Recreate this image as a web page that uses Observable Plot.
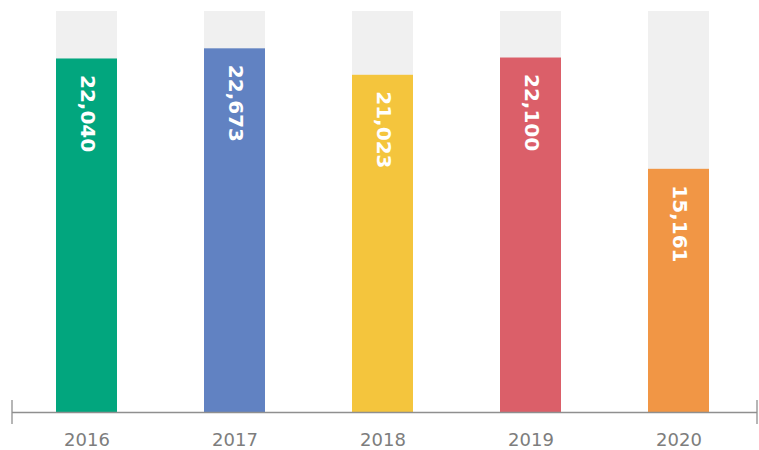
<!DOCTYPE html>
<html>
<head>
<meta charset="utf-8">
<script src="https://cdn.jsdelivr.net/npm/d3@7"></script>
<script src="https://cdn.jsdelivr.net/npm/@observablehq/plot@0.6"></script>
<style>
  html, body { margin: 0; padding: 0; background: #fff; }
</style>
</head>
<body>
<div id="chart"></div>
<script>
const years = ["2016", "2017", "2018", "2019", "2020"];
const values = [22040, 22673, 21023, 22100, 15161];
const colors = ["#02A67E", "#6182C2", "#F4C53D", "#DB5F69", "#F19645"];
const yMax = 25000;

const data = years.map((y, i) => ({year: y, value: values[i], color: colors[i]}));

const axisEnds = (index, scales, values, dims) => {
  const g = d3.create("svg:g");
  const y0 = scales.y(0);
  const xl = dims.marginLeft, xr = dims.width - dims.marginRight;
  g.append("line").attr("x1", xl).attr("x2", xr).attr("y1", y0 + 0.5).attr("y2", y0 + 0.5)
    .attr("stroke", "#8f8f8f").attr("stroke-width", 1.3);
  for (const x of [xl, xr]) {
    g.append("line").attr("x1", x).attr("x2", x).attr("y1", y0 - 12).attr("y2", y0 + 12)
      .attr("stroke", "#8f8f8f").attr("stroke-width", 1.3);
  }
  return g.node();
};

const chart = Plot.plot({
  width: 759,
  height: 450,
  marginTop: 11,
  marginBottom: 38,
  marginLeft: 12,
  marginRight: 2,
  x: {domain: years, paddingInner: 0.589, paddingOuter: 0.307, align: 0.478, axis: null},
  y: {domain: [0, yMax], axis: null},
  color: {domain: years, range: colors},
  marks: [
    Plot.barY(data, {x: "year", y: () => yMax, fill: "#F0F0F0"}),
    Plot.barY(data, {x: "year", y: "value", fill: "year"}),
    Plot.text(data, {
      x: "year", y: "value", text: d => d3.format(",")(d.value),
      rotate: 90, textAnchor: "start", lineAnchor: "middle", dy: 16,
      fill: "white", fontWeight: "bold", fontSize: 20, fontFamily: "DejaVu Sans"
    }),
    Plot.text(data, {
      x: "year", text: "year", frameAnchor: "bottom", lineAnchor: "middle", dy: 28,
      fill: "#7d7d7d", fontSize: 18, fontFamily: "DejaVu Sans"
    }),
    axisEnds
  ]
});
document.getElementById("chart").appendChild(chart);
</script>
</body>
</html>
